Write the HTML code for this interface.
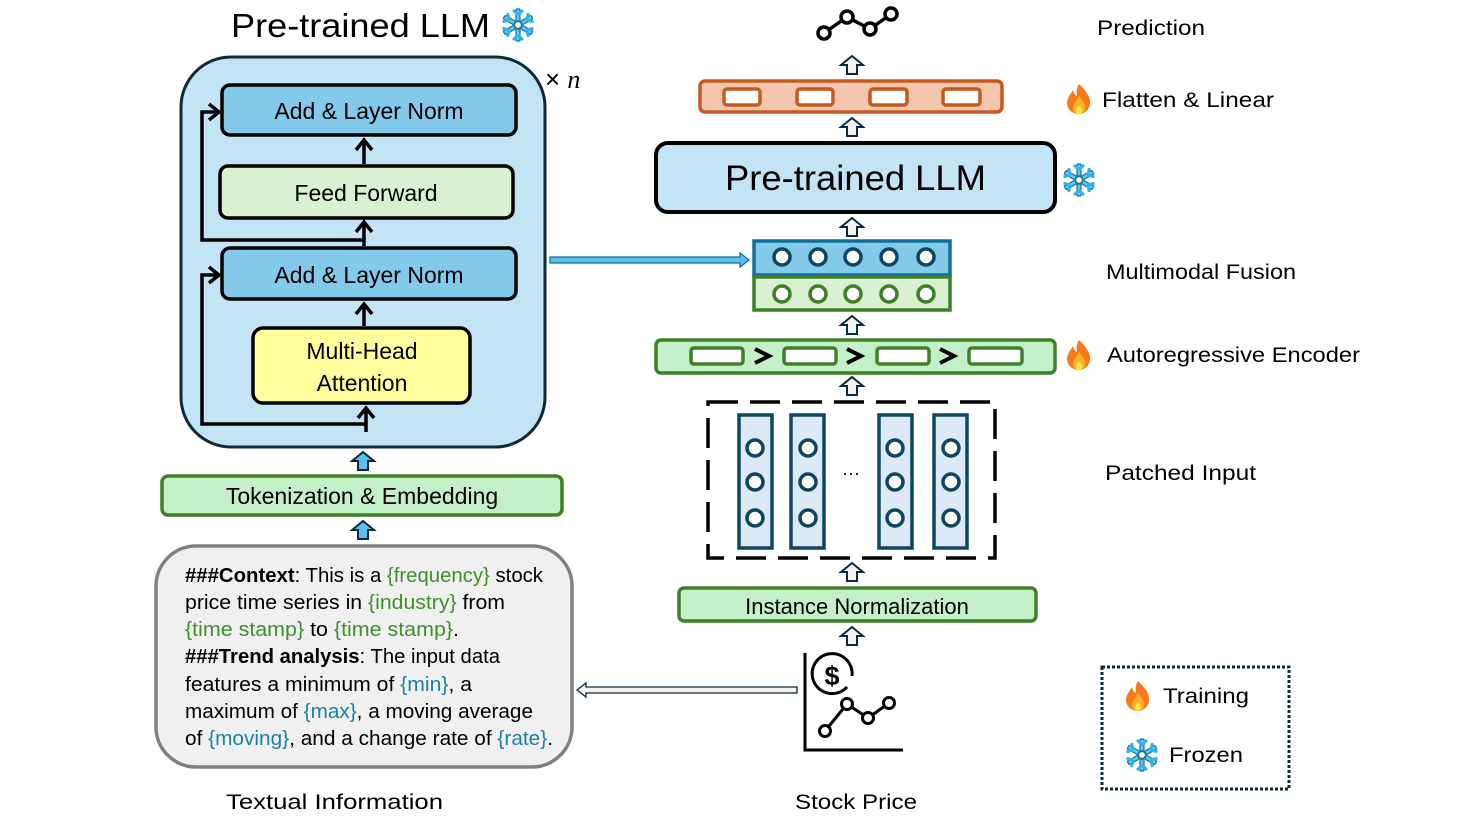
<!DOCTYPE html>
<html><head><meta charset="utf-8"><style>
html,body{margin:0;padding:0;background:#fff}
svg{display:block}
text{font-family:"Liberation Sans",sans-serif}
</style></head><body>
<svg width="1475" height="832" viewBox="0 0 1475 832" xmlns="http://www.w3.org/2000/svg">
<defs>
<g id="ua"><path d="M0,0 L11,9 L5,9 L5,18 L-5,18 L-5,9 L-11,9 Z" fill="#f2f2f2" stroke="#0e2a3a" stroke-width="2" stroke-linejoin="miter"/></g>
<g id="ba"><path d="M0,0 L11,9 L5,9 L5,18 L-5,18 L-5,9 L-11,9 Z" fill="#5bc0f0" stroke="#0e2a3a" stroke-width="2"/></g>
<g id="fl"><path d="M0,-15 C6,-9 12,-3 11,5 C10,12 4,15 0,15 C-5,15 -11,12 -12,5 C-12,-2 -8,-5 -6,-9 C-5,-5 -3,-3 -2,-3 C-3,-8 -2,-12 0,-15 Z" fill="#f47a1a"/><path d="M0,-3 C4,2 7,6 6,10 C5,14 2,15 0,15 C-3,15 -6,13 -6,9 C-6,5 -3,3 0,-3 Z" fill="#fbb02b"/><ellipse cx="0" cy="11" rx="3" ry="4" fill="#fde047"/></g>
<g id="sf" stroke="#1a6f99" stroke-width="1.2" fill="#5ccbef"><g id="sfa"><rect x="-2" y="-16" width="4" height="12" rx="1"/><path d="M0,-10 L-5,-15 M0,-10 L5,-15" stroke="#2fb4e3" stroke-width="3"/></g><use href="#sfa" transform="rotate(60)"/><use href="#sfa" transform="rotate(120)"/><use href="#sfa" transform="rotate(180)"/><use href="#sfa" transform="rotate(240)"/><use href="#sfa" transform="rotate(300)"/><circle r="3.5" fill="#fff"/></g>
</defs>

<text x="231" y="37" font-size="33" fill="#000" textLength="259" lengthAdjust="spacingAndGlyphs">Pre-trained LLM</text>
<use href="#sf" transform="translate(518,25)"/>

<rect x="181" y="57" width="364" height="390" rx="50" fill="#c2e4f4" stroke="#0e2a3a" stroke-width="3"/>
<text x="545" y="88" font-size="26" fill="#000">× <tspan font-family="Liberation Serif" font-style="italic">n</tspan></text>

<rect x="222" y="85" width="294" height="50" rx="8" fill="#83c9ea" stroke="#000" stroke-width="3.5"/>
<text x="369" y="119" font-size="23" text-anchor="middle">Add &amp; Layer Norm</text>
<rect x="220" y="166" width="293" height="52" rx="8" fill="#daf1d1" stroke="#000" stroke-width="3.5"/>
<text x="366" y="201" font-size="23" text-anchor="middle">Feed Forward</text>
<rect x="222" y="248" width="294" height="51" rx="8" fill="#83c9ea" stroke="#000" stroke-width="3.5"/>
<text x="369" y="283" font-size="23" text-anchor="middle">Add &amp; Layer Norm</text>
<rect x="253" y="328" width="217" height="75" rx="10" fill="#fefe9c" stroke="#000" stroke-width="3.5"/>
<text x="362" y="359" font-size="23" text-anchor="middle">Multi-Head</text>
<text x="362" y="391" font-size="23" text-anchor="middle">Attention</text>

<g stroke="#000" stroke-width="3.5" fill="none">
<path d="M364,164 V140 M356,150 L364,140 L372,150"/>
<path d="M364,246 V222 M356,232 L364,222 L372,232"/>
<path d="M364,326 V304 M356,314 L364,304 L372,314"/>
<path d="M366,432 V408 M358,418 L366,408 L374,418"/>
<path d="M366,424 H202 V275 H219 M209,267 L219,275 L209,283"/>
<path d="M364,240 H202 V112 H219 M209,104 L219,112 L209,120"/>
</g>

<path d="M550,257 H740 V253 L749,260 L740,267 V263 H550 Z" fill="#5bc0f0" stroke="#116e98" stroke-width="1.3"/>

<use href="#ba" x="363" y="452"/>
<rect x="162" y="476" width="400" height="39" rx="6" fill="#c4f0c8" stroke="#3f7f28" stroke-width="3.5"/>
<text x="362" y="504" font-size="23" text-anchor="middle">Tokenization &amp; Embedding</text>
<use href="#ba" x="363" y="521"/>

<rect x="156" y="546" width="416" height="221" rx="40" fill="#f0f0f0" stroke="#808080" stroke-width="3.5"/>
<g font-size="20" fill="#000">
<text x="185" y="582" textLength="358" lengthAdjust="spacingAndGlyphs"><tspan font-weight="bold">###Context</tspan>: This is a <tspan fill="#3f8f2a">{frequency}</tspan> stock</text>
<text x="185" y="609" textLength="320" lengthAdjust="spacingAndGlyphs">price time series in <tspan fill="#3f8f2a">{industry}</tspan> from</text>
<text x="185" y="636" textLength="274" lengthAdjust="spacingAndGlyphs"><tspan fill="#3f8f2a">{time stamp}</tspan> to <tspan fill="#3f8f2a">{time stamp}</tspan>.</text>
<text x="185" y="663" textLength="315" lengthAdjust="spacingAndGlyphs"><tspan font-weight="bold">###Trend analysis</tspan>: The input data</text>
<text x="185" y="691" textLength="287" lengthAdjust="spacingAndGlyphs">features a minimum of <tspan fill="#1b7fa6">{min}</tspan>, a</text>
<text x="185" y="718" textLength="348" lengthAdjust="spacingAndGlyphs">maximum of <tspan fill="#1b7fa6">{max}</tspan>, a moving average</text>
<text x="185" y="745" textLength="368" lengthAdjust="spacingAndGlyphs">of <tspan fill="#1b7fa6">{moving}</tspan>, and a change rate of <tspan fill="#1b7fa6">{rate}</tspan>.</text>
</g>
<text x="226" y="809" font-size="21" textLength="217" lengthAdjust="spacingAndGlyphs">Textual Information</text>

<g stroke="#000" stroke-width="3.5" fill="#fff">
<polyline points="824,33 847,17 870,29 891,14" fill="none"/>
<circle cx="824" cy="33" r="6"/><circle cx="847" cy="17" r="6"/><circle cx="870" cy="29" r="6"/><circle cx="891" cy="14" r="6"/>
</g>
<use href="#ua" x="852" y="56"/>
<rect x="700" y="81" width="302" height="31" rx="5" fill="#f5c6ae" stroke="#c55a1f" stroke-width="3.5"/>
<g fill="#fff" stroke="#c55a1f" stroke-width="3.5">
<rect x="724" y="89" width="36" height="16" rx="3"/><rect x="797" y="89" width="36" height="16" rx="3"/><rect x="870" y="89" width="37" height="16" rx="3"/><rect x="943" y="89" width="37" height="16" rx="3"/>
</g>
<use href="#ua" x="852" y="118"/>
<rect x="656" y="143" width="399" height="69" rx="12" fill="#c2e4f4" stroke="#000" stroke-width="4"/>
<text x="725" y="190" font-size="35" textLength="261" lengthAdjust="spacingAndGlyphs">Pre-trained LLM</text>
<use href="#sf" transform="translate(1079,180)"/>
<use href="#ua" x="852" y="218"/>

<rect x="754" y="241" width="196" height="34" fill="#83c9ea" stroke="#116e98" stroke-width="3.5"/>
<rect x="754" y="277" width="196" height="33" fill="#daf1d1" stroke="#3f7f28" stroke-width="3.5"/>
<g fill="#fff" stroke-width="3.5">
<g stroke="#0e4560"><circle cx="782" cy="257" r="8"/><circle cx="818" cy="257" r="8"/><circle cx="853" cy="257" r="8"/><circle cx="889" cy="257" r="8"/><circle cx="926" cy="257" r="8"/></g>
<g stroke="#3f7f28"><circle cx="782" cy="294" r="8"/><circle cx="818" cy="294" r="8"/><circle cx="853" cy="294" r="8"/><circle cx="889" cy="294" r="8"/><circle cx="926" cy="294" r="8"/></g>
</g>
<use href="#ua" x="852" y="316"/>

<rect x="656" y="340" width="399" height="33" rx="5" fill="#c4f0c8" stroke="#3f7f28" stroke-width="3.5"/>
<g fill="#fff" stroke="#3f7f28" stroke-width="3.5">
<rect x="691" y="348" width="52" height="16" rx="3"/><rect x="784" y="348" width="52" height="16" rx="3"/><rect x="877" y="348" width="52" height="16" rx="3"/><rect x="969" y="348" width="53" height="16" rx="3"/>
</g>
<g stroke="#000" stroke-width="4" fill="none">
<path d="M755,349 L769,356 L755,363"/><path d="M847,349 L861,356 L847,363"/><path d="M940,349 L954,356 L940,363"/>
</g>
<use href="#ua" x="852" y="377"/>

<rect x="708" y="402" width="287" height="156" fill="none" stroke="#000" stroke-width="3.5" stroke-dasharray="30,12"/>
<g fill="#dce9f6" stroke="#0e4560" stroke-width="3.5">
<rect x="739" y="415" width="33" height="133"/><rect x="791" y="415" width="33" height="133"/><rect x="879" y="415" width="33" height="133"/><rect x="934" y="415" width="33" height="133"/>
</g>
<g fill="#fff" stroke="#0e4560" stroke-width="3.5">
<circle cx="755" cy="448" r="8"/><circle cx="755" cy="482" r="8"/><circle cx="755" cy="518" r="8"/>
<circle cx="808" cy="448" r="8"/><circle cx="808" cy="482" r="8"/><circle cx="808" cy="518" r="8"/>
<circle cx="895" cy="448" r="8"/><circle cx="895" cy="482" r="8"/><circle cx="895" cy="518" r="8"/>
<circle cx="951" cy="448" r="8"/><circle cx="951" cy="482" r="8"/><circle cx="951" cy="518" r="8"/>
</g>
<text x="851" y="479" font-size="18" text-anchor="middle">···</text>
<use href="#ua" x="852" y="563"/>
<rect x="679" y="588" width="357" height="33" rx="5" fill="#c4f0c8" stroke="#3f7f28" stroke-width="3.5"/>
<text x="857" y="614" font-size="22" text-anchor="middle">Instance Normalization</text>
<use href="#ua" x="852" y="627"/>

<g stroke="#000" stroke-width="3" fill="none">
<path d="M805,653 V750 H903"/>
<path d="M847,687 A20,20 0 1 1 852,676"/>
<text x="832" y="685" font-size="27" text-anchor="middle" fill="#000" stroke="none" font-weight="bold">$</text>
<polyline points="825,731 847,704 868,718 889,703"/>
</g>
<g fill="#fff" stroke="#000" stroke-width="3"><circle cx="825" cy="731" r="5.5"/><circle cx="847" cy="704" r="5.5"/><circle cx="868" cy="718" r="5.5"/><circle cx="889" cy="703" r="5.5"/></g>
<path d="M797,687 H586 V683 L577,690 L586,697 V693 H797 Z" fill="#f2f2f2" stroke="#0e2a3a" stroke-width="1.3"/>
<text x="795" y="809" font-size="21" textLength="122" lengthAdjust="spacingAndGlyphs">Stock Price</text>

<g font-size="21" fill="#000">
<text x="1097" y="35" textLength="108" lengthAdjust="spacingAndGlyphs">Prediction</text>
<text x="1102" y="107" textLength="172" lengthAdjust="spacingAndGlyphs">Flatten &amp; Linear</text>
<text x="1106" y="279" textLength="190" lengthAdjust="spacingAndGlyphs">Multimodal Fusion</text>
<text x="1107" y="362" textLength="253" lengthAdjust="spacingAndGlyphs">Autoregressive Encoder</text>
<text x="1105" y="480" textLength="151" lengthAdjust="spacingAndGlyphs">Patched Input</text>
<text x="1163" y="703" textLength="86" lengthAdjust="spacingAndGlyphs">Training</text>
<text x="1169" y="762" textLength="74" lengthAdjust="spacingAndGlyphs">Frozen</text>
</g>
<use href="#fl" transform="translate(1079,99)"/>
<use href="#fl" transform="translate(1079,355)"/>
<rect x="1102" y="667" width="187" height="122" fill="none" stroke="#0e2a3a" stroke-width="3" stroke-dasharray="3,2"/>
<use href="#fl" transform="translate(1138,696)"/>
<use href="#sf" transform="translate(1142,755)"/>
</svg>
</body></html>
